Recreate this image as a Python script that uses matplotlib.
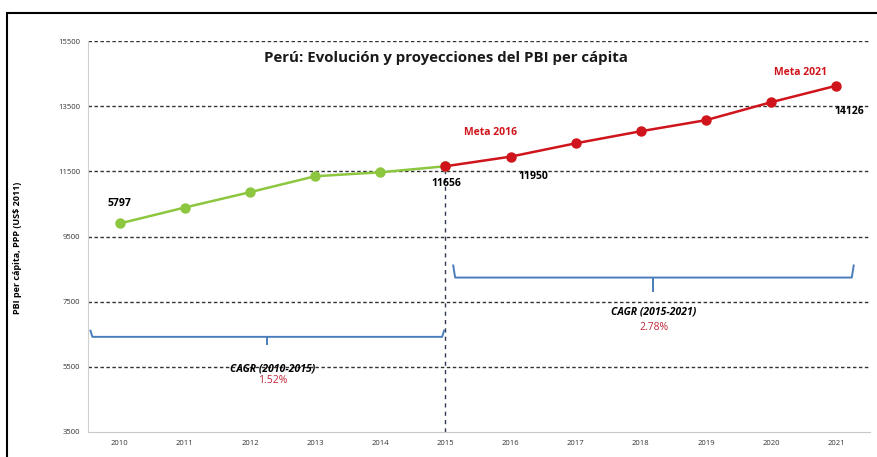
import numpy as np
import matplotlib
matplotlib.use('Agg')
import matplotlib.pyplot as plt
from matplotlib.patches import Rectangle

plt.rcParams['font.family'] = ['Open Sans', 'DejaVu Sans']

# datos
anios_hist = [2010, 2011, 2012, 2013, 2014, 2015]
pbi_hist = [9900, 10390, 10860, 11350, 11470, 11656]
anios_proy = [2015, 2016, 2017, 2018, 2019, 2020, 2021]
pbi_proy = [11656, 11950, 12360, 12730, 13070, 13620, 14126]
yticks = [3500, 5500, 7500, 9500, 11500, 13500, 15500]
xticks = list(range(2010, 2022))

verde = '#8dc63f'
rojo = '#d0141c'
azul = '#4a7ebb'

fig = plt.figure(figsize=(8.78, 4.57), dpi=100)
ax = fig.add_axes([88.5 / 878, 1 - 432 / 457, (870 - 88.5) / 878, (432 - 41) / 457])

# marco exterior
fig.patches.append(Rectangle((7 / 878, -0.1), 1.2, 1 - 13 / 457 + 0.1,
                             transform=fig.transFigure, fill=False,
                             edgecolor='black', linewidth=1.5))

ax.set_xlim(2009.52, 2021.52)
ax.set_ylim(3500, 15500)
ax.set_yticks(yticks)
ax.set_xticks(xticks)
ax.tick_params(length=0, labelsize=5.5, colors='#333333', pad=6)
for s in ['top', 'right']:
    ax.spines[s].set_visible(False)
ax.spines['left'].set_color('#d0d0d0')
ax.spines['bottom'].set_color('#c8c8c8')

for v in yticks[1:]:
    ax.axhline(v, color='#333333', linestyle=(0, (2.5, 1.8)), linewidth=1.0, zorder=1)

# linea vertical 2015
ax.plot([2015, 2015], [3500, pbi_proy[0]], color='#2f3b55', linestyle=(0, (3, 3)),
        linewidth=1.0, zorder=2)

ax.plot(anios_hist, pbi_hist, color=verde, linewidth=1.8, marker='o', markersize=6.5, zorder=3)
ax.plot(anios_proy, pbi_proy, color=rojo, linewidth=1.8, marker='o', markersize=6.5, zorder=4)


def llave(x0, x1, y, alto_punta, alto_centro):
    xm = (x0 + x1) / 2
    ax.plot([x0, x0 + 0.03, x1 - 0.03, x1], [y + alto_punta, y, y, y + alto_punta],
            color=azul, linewidth=1.4, zorder=3)
    ax.plot([xm, xm], [y, y - alto_centro], color=azul, linewidth=1.4, zorder=3)


llave(2009.55, 2014.98, 6420, 190, 210)
llave(2015.12, 2021.27, 8240, 370, 420)

fig.text(446 / 878, 1 - 58 / 457, 'Perú: Evolución y proyecciones del PBI per cápita',
         fontsize=10.8, fontweight='bold', color='#1a1a1a', ha='center', va='center')
ax.set_ylabel('PBI per cápita, PPP (US$ 2011)', fontsize=6.5, fontweight='bold')
ax.yaxis.set_label_coords((22 - 88.5) / 781.5, 0.47)

ax.text(2010, 10520, '5797', fontsize=7.5, fontweight='bold', ha='center', va='center')
ax.text(2015.02, 11120, '11656', fontsize=7.5, fontweight='bold', ha='center', va='center')
ax.text(2016.35, 11340, '11950', fontsize=7.5, fontweight='bold', ha='center', va='center')
ax.text(2021.2, 13350, '14126', fontsize=7.5, fontweight='bold', ha='center', va='center')
ax.text(2015.7, 12680, 'Meta 2016', fontsize=7.5, fontweight='bold', color=rojo, ha='center', va='center')
ax.text(2020.45, 14520, 'Meta 2021', fontsize=7.5, fontweight='bold', color=rojo, ha='center', va='center')

ax.text(2012.35, 5440, 'CAGR (2010-2015)', fontsize=7.5, fontweight='bold', fontstyle='italic',
        ha='center', va='center', zorder=5)
ax.text(2012.35, 5070, '1.52%', fontsize=7.5, color='#c0283c', ha='center', va='center')
ax.text(2018.2, 7190, 'CAGR (2015-2021)', fontsize=7.5, fontweight='bold', fontstyle='italic',
        ha='center', va='center')
ax.text(2018.2, 6700, '2.78%', fontsize=7.5, color='#c0283c', ha='center', va='center')

fig.savefig('out.png', dpi=100)
